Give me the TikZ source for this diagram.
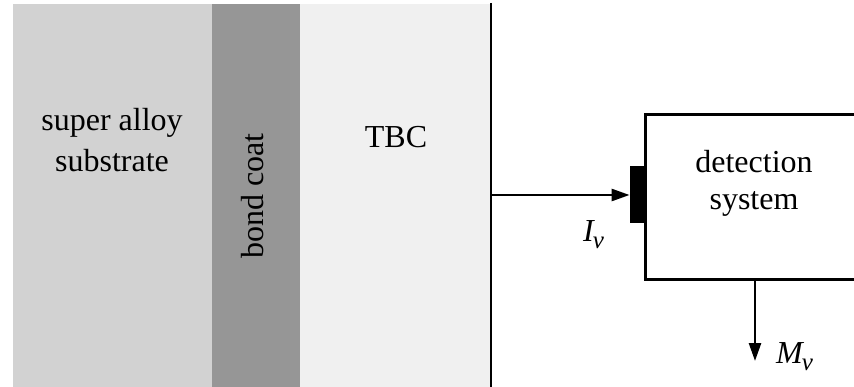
\documentclass[tikz,border=0pt]{standalone}
\usepackage{fontspec}
\setmainfont{Liberation Serif}
\usetikzlibrary{arrows.meta}

\definecolor{substrategray}{HTML}{D2D2D2}
\definecolor{bondgray}{HTML}{969696}
\definecolor{tbcgray}{HTML}{F0F0F0}

\tikzset{
  label/.style={inner sep=0pt, font=\fontsize{32}{38}\selectfont},
  sym/.style={inner sep=0pt, font=\fontsize{32}{38}\selectfont\itshape},
  flow/.style={line width=2.6pt, -{Triangle[length=18pt,width=12pt]}},
  wall/.style={line width=2.8pt},
  detbox/.style={draw, line width=2.8pt, fill=white, minimum width=260, minimum height=165,
                 anchor=north west, inner sep=0pt},
  sensor/.style={fill=black, minimum width=15, minimum height=57, inner sep=0pt, anchor=east}
}

\begin{document}
\begin{tikzpicture}[x=1pt,y=-1pt]
  \useasboundingbox (0,0) rectangle (854,387);
  \clip (0,0) rectangle (854,387);
  \fill[white] (0,0) rectangle (854,387);

  % coating layers
  \fill[substrategray] (13,4) rectangle (212,387);
  \fill[bondgray] (212,4) rectangle (300,387);
  \fill[tbcgray] (300,4) rectangle (491,387);

  % layer names
  \node[label, anchor=base] (sub1) at (112,131) {super alloy};
  \node[label, anchor=base] (sub2) at (112,172) {substrate};
  \node[label, anchor=base, rotate=90] (bond) at (263,196) {bond coat};
  \node[label, anchor=base] (tbc) at (396,148) {TBC};

  % TBC surface
  \coordinate (wtop) at (491,3);
  \coordinate (wbot) at (491,387);
  \draw[wall] (wtop) -- (wbot);

  % detection system
  \node[detbox] (det) at (644,113) {};
  \node[label, anchor=base] (det1) at (754,173) {detection};
  \node[label, anchor=base] (det2) at (754,210) {system};
  \node[sensor] (sens) at (645,195) {};

  % radiance into the detector
  \coordinate (src) at (491,195);
  \draw[flow] (src) -- (sens.west);
  \node[sym, anchor=base west] (Iv) at (583,242)
    {I\kern-1pt\raisebox{-7pt}{\fontsize{25}{30}\selectfont ν}};

  % measured signal
  \coordinate (mout) at (755,361);
  \draw[flow] (det.south -| mout) -- (mout);
  \node[sym, anchor=base west] (Mv) at (776,363)
    {M\kern-1pt\raisebox{-7pt}{\fontsize{25}{30}\selectfont ν}};
\end{tikzpicture}
\end{document}
